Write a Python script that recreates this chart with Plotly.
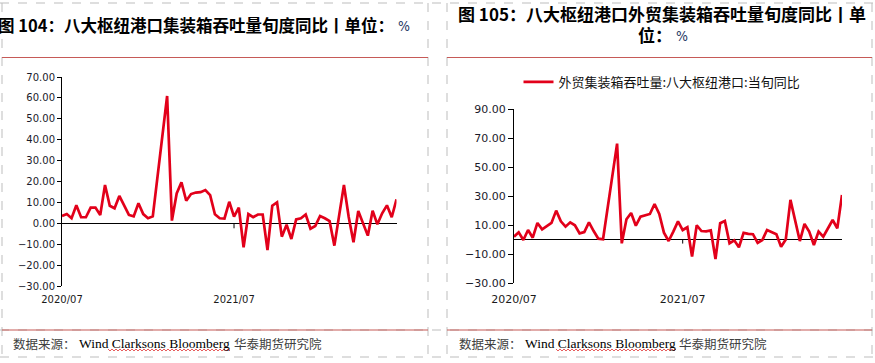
import plotly.graph_objects as go

W, H = 875, 363

# ---------------- data ----------------
tick_labels = ["2020/07", "2021/07"]
tick_index = [0, 36]

left_values = [3.5, 4.4, 2.4, 8.6, 2.9, 2.9, 7.5, 7.5, 4.0, 18.3,
               8.4, 7.2, 13.1, 8.8, 4.0, 3.3, 9.6, 4.4, 2.4, 3.3,
               22.5, 41.7, 60.9, 1.3, 14.3, 19.6, 10.8, 14.0, 14.7, 14.9,
               15.9, 13.5, 4.3, 2.4, 2.3, 10.3, 3.2, 7.5, -11.5, 4.4,
               2.9, 4.2, 4.2, -12.8, 8.4, 10.0, -6.4, -0.7, -7.5, 1.9,
               2.4, 4.2, -2.6, -1.3, 3.5, 2.4, 1.0, -10.7, 3.8, 18.3,
               3.0, -9.1, 5.9, 0.3, -5.9, 6.0, -0.5, 4.8, 8.6, 2.9,
               11.5]

right_values = [2.0, 5.0, -0.3, 6.6, 1.3, 11.5, 7.1, 9.6, 11.5, 20.0,
                12.6, 8.9, 11.9, 9.9, 4.3, 5.2, 11.9, 5.9, 0.6, 0.2,
                22.3, 44.4, 66.3, -2.6, 14.0, 18.4, 9.6, 15.8, 17.0, 17.7,
                24.6, 17.7, 4.8, -1.0, 5.5, 12.6, 6.6, 8.5, -11.8, 9.9,
                5.9, 5.7, 6.4, -13.4, 11.3, 12.8, -2.6, -0.5, -5.3, 4.6,
                3.9, 3.7, -2.3, -0.3, 6.6, 5.2, 3.7, -5.0, 0.0, 27.4,
                12.0, -1.0, 10.8, 5.5, -3.7, 5.5, 2.0, 7.8, 13.5, 7.8,
                30.8]

x_index = list(range(len(left_values)))

left_title = "图 104：八大枢纽港口集装箱吞吐量旬度同比丨单位："
right_title_1 = "图 105：八大枢纽港口外贸集装箱吞吐量旬度同比丨单"
right_title_2 = "位："
unit = "%"
series_name = "外贸集装箱吞吐量:八大枢纽港口:当旬同比"
source_a = "数据来源："
source_b = "Wind Clarksons Bloomberg"
source_c = "华泰期货研究院"


def px(x):
    return x / W


def py(y):
    return 1 - y / H


RED = "#E2001A"
CJK = "Noto Sans CJK SC"
NUM = "DejaVu Sans"

fig = go.Figure()
fig.add_trace(go.Scatter(x=x_index, y=left_values, mode="lines",
                         line=dict(color=RED, width=2.7),
                         xaxis="x", yaxis="y", showlegend=False,
                         name="八大枢纽港口集装箱吞吐量旬度同比"))
fig.add_trace(go.Scatter(x=x_index, y=right_values, mode="lines",
                         line=dict(color=RED, width=2.7),
                         xaxis="x2", yaxis="y2", showlegend=True,
                         name=series_name))

common_x = dict(showline=False, showgrid=False, zeroline=False, ticks="",
                tickvals=tick_index, ticktext=tick_labels, range=[0, 70],
                automargin=False)
common_y = dict(showline=True, linecolor="black", linewidth=1, ticks="outside",
                tickcolor="black", showgrid=False, zeroline=True,
                zerolinecolor="black", zerolinewidth=1, tickformat=".2f",
                automargin=False)

fig.update_layout(
    width=W, height=H, autosize=False,
    margin=dict(l=0, r=0, t=0, b=0, pad=0),
    paper_bgcolor="white", plot_bgcolor="white",
    xaxis=dict(domain=[px(62), px(396.5)], anchor="y",
               tickfont=dict(family=NUM, size=10, color="#1a1a1a"),
               ticklabelstandoff=6, **common_x),
    yaxis=dict(domain=[py(286), py(77)], anchor="x", range=[-30, 70],
               tick0=0, dtick=10, ticklen=4,
               tickfont=dict(family=NUM, size=10, color="#1a1a2a"), **common_y),
    xaxis2=dict(domain=[px(514), px(842)], anchor="y2",
                tickfont=dict(family=NUM, size=11, color="#1a1a1a"),
                ticklabelstandoff=8, **common_x),
    yaxis2=dict(domain=[py(283), py(109.3)], anchor="x2", range=[-30, 90],
                tick0=-30, dtick=20, ticklen=5,
                tickfont=dict(family=NUM, size=11, color="#1a1a2a"), **common_y),
    legend=dict(orientation="h", x=px(662), y=py(82), xanchor="center",
                yanchor="middle", bgcolor="rgba(0,0,0,0)",
                font=dict(family=CJK, size=13, color="#111")),
)

shapes = []
GREY = "#BDBDBD"
# dashed panel frames
for y in [3, 330, 357]:
    shapes.append(dict(type="line", xref="paper", yref="paper", x0=0, x1=1,
                       y0=py(y), y1=py(y), line=dict(color=GREY, width=1, dash="dash")))
for x in [2, 428, 447, 872]:
    shapes.append(dict(type="line", xref="paper", yref="paper", x0=px(x), x1=px(x),
                       y0=py(3), y1=py(357), line=dict(color=GREY, width=1, dash="dash")))
# red separators
for (a, b) in [(2, 428), (447, 872)]:
    for y in [57.5, 330]:
        shapes.append(dict(type="line", xref="paper", yref="paper", x0=px(a), x1=px(b),
                           y0=py(y), y1=py(y), line=dict(color="#C65A57", width=1.2)))
# tick marks on the zero line at the second tick label
for xa, ya, ln in [("x", "y", 5), ("x2", "y2", 4)]:
    shapes.append(dict(type="line", xref=xa, yref=ya, x0=tick_index[1], x1=tick_index[1],
                       ysizemode="pixel", yanchor=0, y0=0, y1=-ln,
                       line=dict(color="black", width=1)))


# spell-check wavy underline
def wavy(x0, x1, y):
    pts = []
    x = x0
    up = True
    while x <= x1:
        pts.append((px(x), py(y - 1 if up else y + 1)))
        up = not up
        x += 2
    return "M " + " L ".join(f"{a:.5f},{b:.5f}" for a, b in pts)


for (a, b) in [(108, 230), (556, 676)]:
    shapes.append(dict(type="path", xref="paper", yref="paper", path=wavy(a, b, 350),
                       line=dict(color="#E03030", width=0.8)))
fig.update_layout(shapes=shapes)


def text_ann(text, x, y, xanchor, family, size, color):
    return dict(xref="paper", yref="paper", x=px(x), y=py(y), xanchor=xanchor,
                yanchor="middle", showarrow=False, text=text,
                font=dict(family=family, size=size, color=color))


UNIT_FONT = "DejaVu Sans Condensed"
ann = [
    text_ann(f"<b>{left_title}</b>", 396, 25, "right", CJK, 16.5, "black"),
    text_ann(unit, 396, 26, "left", UNIT_FONT, 14, "#1F3864"),
    text_ann(f"<b>{right_title_1}</b>", 662, 13, "center", CJK, 17, "black"),
    text_ann(f"<b>{right_title_2}</b>", 674, 35, "right", CJK, 17, "black"),
    text_ann(unit, 674, 36, "left", UNIT_FONT, 14, "#1F3864"),
]
for xa, xb, xc in [(11, 77, 232), (457, 523, 677)]:
    ann.append(text_ann(source_a, xa, 343, "left", CJK, 12.5, "#404040"))
    ann.append(text_ann(source_b, xb, 343, "left", "Liberation Serif", 13.5, "#000"))
    ann.append(text_ann(source_c, xc, 343, "left", CJK, 12.5, "#404040"))
fig.update_layout(annotations=ann)

fig.write_html("out.html", config={"displayModeBar": False},
               post_script="document.body.style.margin='0';document.body.style.overflow='hidden';")
